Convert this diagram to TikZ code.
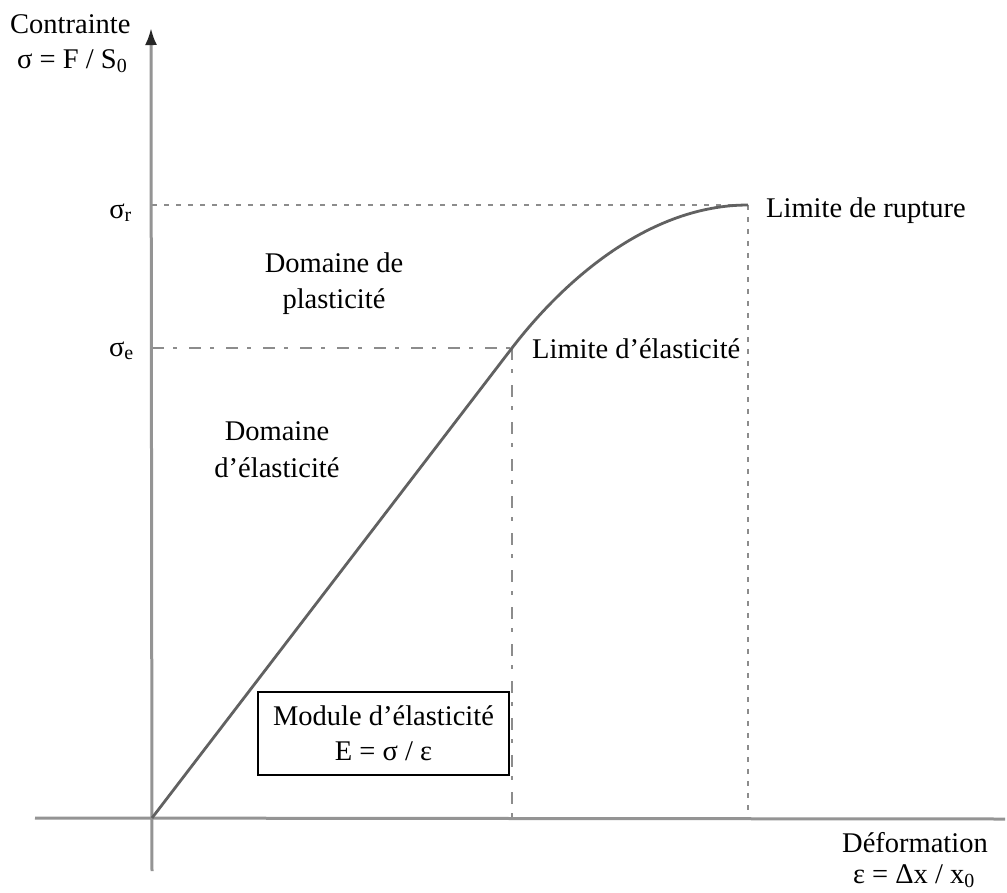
\documentclass[tikz,border=0pt]{standalone}
\usepackage{fontspec}
\setmainfont{Liberation Serif}
\usetikzlibrary{arrows.meta}
\begin{document}
\begin{tikzpicture}[x=1pt,y=-1pt,
  lbl/.style={font=\fontsize{28.5}{36}\selectfont, inner sep=0pt, text=black},
  axisline/.style={draw=black!42, line width=3pt},
  curveline/.style={draw=black!62, line width=2.8pt},
  dotline/.style={draw=black!45, line width=2.8pt, dash pattern=on 4.5pt off 7.5pt},
  dashdotline/.style={draw=black!45, line width=2.8pt, dash pattern=on 12pt off 9pt on 4pt off 12pt},
  modbox/.style={draw=black, line width=1.5pt, minimum width=251pt, minimum height=83pt, align=center, font=\fontsize{28.5}{35}\selectfont, inner sep=0pt}
]
\useasboundingbox (0,0) rectangle (1007,892);
\fill[white] (0,0) rectangle (1007,892);
% coordinates
\coordinate (O) at (152,818);
\coordinate (ytop) at (151,28);
\coordinate (ybot) at (152,871);
\coordinate (xl) at (35,818);
\coordinate (xr) at (1005,819);
\coordinate (E) at (512,348);
\coordinate (R) at (748,205);
\coordinate (Ex) at (512,818);
\coordinate (Rx) at (748,818);
\coordinate (Ey) at (152,348);
\coordinate (Ry) at (152,205);
% reference lines
\draw[dotline] (Ry) -- (R);
\draw[dotline] (R) -- (Rx);
\draw[dashdotline] (Ey) -- (E);
\draw[dashdotline] (E) -- (Ex);
% axes
\draw[axisline] (xl) -- (xr);
\draw[axisline, -{Latex[length=17pt,width=12pt,color=black!85]}] (ybot) -- (ytop);
% curve
\draw[curveline] (O) -- (E) .. controls (565,279) and (650,205) .. (R);
% labels
\node[lbl, anchor=base west] (c1) at (10,33) {Contrainte};
\node[lbl, anchor=base west] (c2) at (17,68) {σ = F / S\textsubscript{0}};
\node[lbl, anchor=base east] (sr) at (132,218) {σ\textsubscript{r}};
\node[lbl, anchor=base east] (se) at (134,356) {σ\textsubscript{e}};
\node[lbl, anchor=base west] (lr) at (766,217) {Limite de rupture};
\node[lbl, anchor=base west] (le) at (532,358) {Limite d’élasticité};
\node[lbl, anchor=base] (dp1) at (334,272) {Domaine de};
\node[lbl, anchor=base] (dp2) at (334,308) {plasticité};
\node[lbl, anchor=base] (de1) at (277,440) {Domaine};
\node[lbl, anchor=base] (de2) at (277,477) {d’élasticité};
\node[modbox] (mod) at (383.5,733.5) {Module d’élasticité\\E = σ / ε};
\node[lbl, anchor=base east] (d1) at (988,852) {Déformation};
\node[lbl, anchor=base east] (d2) at (975,883) {ε = Δx / x\textsubscript{0}};
\end{tikzpicture}
\end{document}
